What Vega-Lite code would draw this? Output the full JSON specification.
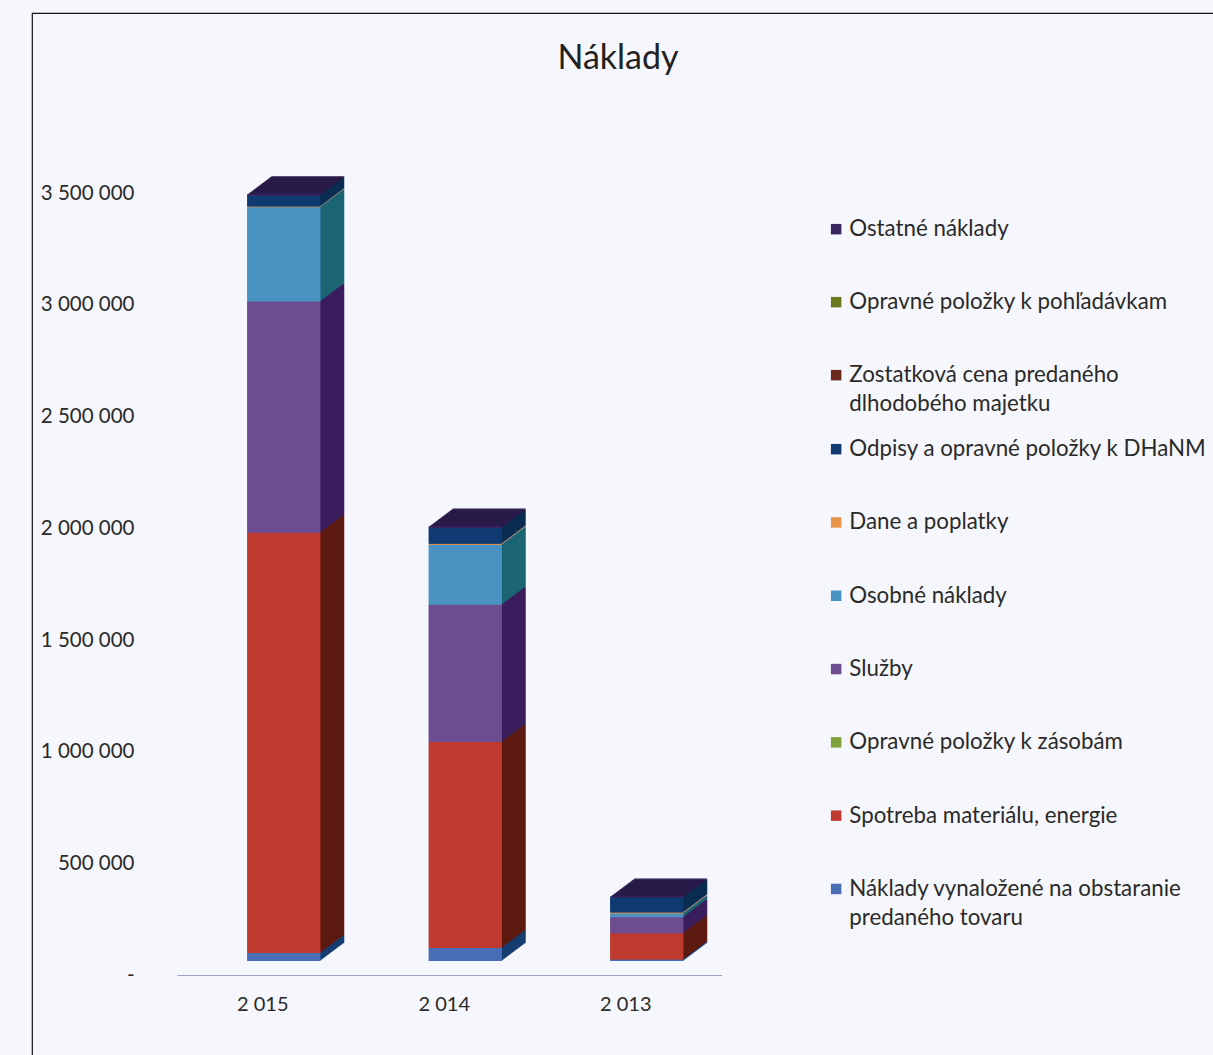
{"$schema":"https://vega.github.io/schema/vega-lite/v6.json","width":1182,"height":1043,"autosize":"none","padding":{"left":32,"top":13,"right":0,"bottom":0},"background":"#f6f7fc","config":{"font":"Lato","view":{"stroke":"#111","strokeWidth":1.2},"style":{"guide-label":{"lineHeight":29}}},"title":{"text":"Náklady","fontSize":34,"font":"Lato","fontWeight":"normal","color":"#222","anchor":"middle","frame":"group","offset":-80,"dx":-5,"baseline":"middle"},"data":{"values":[
{"rok":"2 015","polozka":"Náklady vynaložené na obstaranie predaného tovaru","poradie":1,"hodnota":36000},{"rok":"2 015","polozka":"Spotreba materiálu, energie","poradie":2,"hodnota":1880000},{"rok":"2 015","polozka":"Opravné položky k zásobám","poradie":3,"hodnota":0},{"rok":"2 015","polozka":"Služby","poradie":4,"hodnota":1034000},{"rok":"2 015","polozka":"Osobné náklady","poradie":5,"hodnota":421000},{"rok":"2 015","polozka":"Dane a poplatky","poradie":6,"hodnota":4000},{"rok":"2 015","polozka":"Odpisy a opravné položky k DHaNM","poradie":7,"hodnota":49000},{"rok":"2 015","polozka":"Zostatková cena predaného dlhodobého majetku","poradie":8,"hodnota":0},{"rok":"2 015","polozka":"Opravné položky k pohľadávkam","poradie":9,"hodnota":0},{"rok":"2 015","polozka":"Ostatné náklady","poradie":10,"hodnota":5000},
{"rok":"2 014","polozka":"Náklady vynaložené na obstaranie predaného tovaru","poradie":1,"hodnota":58000},{"rok":"2 014","polozka":"Spotreba materiálu, energie","poradie":2,"hodnota":922000},{"rok":"2 014","polozka":"Opravné položky k zásobám","poradie":3,"hodnota":0},{"rok":"2 014","polozka":"Služby","poradie":4,"hodnota":613000},{"rok":"2 014","polozka":"Osobné náklady","poradie":5,"hodnota":269000},{"rok":"2 014","polozka":"Dane a poplatky","poradie":6,"hodnota":4000},{"rok":"2 014","polozka":"Odpisy a opravné položky k DHaNM","poradie":7,"hodnota":72000},{"rok":"2 014","polozka":"Zostatková cena predaného dlhodobého majetku","poradie":8,"hodnota":0},{"rok":"2 014","polozka":"Opravné položky k pohľadávkam","poradie":9,"hodnota":0},{"rok":"2 014","polozka":"Ostatné náklady","poradie":10,"hodnota":5000},
{"rok":"2 013","polozka":"Náklady vynaložené na obstaranie predaného tovaru","poradie":1,"hodnota":7000},{"rok":"2 013","polozka":"Spotreba materiálu, energie","poradie":2,"hodnota":117000},{"rok":"2 013","polozka":"Opravné položky k zásobám","poradie":3,"hodnota":0},{"rok":"2 013","polozka":"Služby","poradie":4,"hodnota":72000},{"rok":"2 013","polozka":"Osobné náklady","poradie":5,"hodnota":17000},{"rok":"2 013","polozka":"Dane a poplatky","poradie":6,"hodnota":4000},{"rok":"2 013","polozka":"Odpisy a opravné položky k DHaNM","poradie":7,"hodnota":67000},{"rok":"2 013","polozka":"Zostatková cena predaného dlhodobého majetku","poradie":8,"hodnota":0},{"rok":"2 013","polozka":"Opravné položky k pohľadávkam","poradie":9,"hodnota":0},{"rok":"2 013","polozka":"Ostatné náklady","poradie":10,"hodnota":5000}
]},
"encoding":{
"x":{"field":"rok","type":"nominal","sort":null,"title":null,"scale":{"range":[145,689.5]},"axis":{"orient":"bottom","offset":-81,"domainColor":"#9a9fd0","domainWidth":1,"ticks":false,"labelAngle":0,"labelFont":"Lato","labelFontSize":20,"labelColor":"#2a2a2a","labelPadding":19,"labelOffset":-5,"grid":false}},
"y":{"field":"hodnota","type":"quantitative","title":null,"scale":{"domain":[0,3500000],"nice":false,"range":[962.5,180]},"axis":{"offset":-102,"domain":false,"ticks":false,"grid":false,"values":[0,500000,1000000,1500000,2000000,2500000,3000000,3500000],"labelExpr":"datum.value===0?'-\u00a0\u00a0':replace(format(datum.value,','),/,/g,' ')","labelPadding":0,"labelFont":"Lato","labelFontSize":20.5,"labelColor":"#2a2a2a"}},
"order":{"field":"poradie","type":"quantitative"}},
"layer":[
{"encoding":{"fill":{"field":"polozka","type":"nominal","legend":null,"scale":{"domain":["Ostatné náklady","Opravné položky k pohľadávkam","Zostatková cena predaného dlhodobého majetku","Odpisy a opravné položky k DHaNM","Dane a poplatky","Osobné náklady","Služby","Opravné položky k zásobám","Spotreba materiálu, energie","Náklady vynaložené na obstaranie predaného tovaru"],"range":["#2a1a48","#3f4a12","#4a1a10","#0b2c50","#d9a080","#1b6475","#3a1e5c","#4a6020","#5c1a10","#173e70"]}}},
"layer":[
{"mark":{"type":"bar","width":73,"xOffset":40,"yOffset":-32.5,"y2Offset":-32.5}},
{"mark":{"type":"bar","width":73,"xOffset":39,"yOffset":-31.75,"y2Offset":-31.75}},
{"mark":{"type":"bar","width":73,"xOffset":38,"yOffset":-31,"y2Offset":-31}},
{"mark":{"type":"bar","width":73,"xOffset":37,"yOffset":-30.25,"y2Offset":-30.25}},
{"mark":{"type":"bar","width":73,"xOffset":36,"yOffset":-29.5,"y2Offset":-29.5}},
{"mark":{"type":"bar","width":73,"xOffset":35,"yOffset":-28.75,"y2Offset":-28.75}},
{"mark":{"type":"bar","width":73,"xOffset":34,"yOffset":-28,"y2Offset":-28}},
{"mark":{"type":"bar","width":73,"xOffset":33,"yOffset":-27.25,"y2Offset":-27.25}},
{"mark":{"type":"bar","width":73,"xOffset":32,"yOffset":-26.5,"y2Offset":-26.5}},
{"mark":{"type":"bar","width":73,"xOffset":31,"yOffset":-25.75,"y2Offset":-25.75}},
{"mark":{"type":"bar","width":73,"xOffset":30,"yOffset":-25,"y2Offset":-25}},
{"mark":{"type":"bar","width":73,"xOffset":29,"yOffset":-24.25,"y2Offset":-24.25}},
{"mark":{"type":"bar","width":73,"xOffset":28,"yOffset":-23.5,"y2Offset":-23.5}},
{"mark":{"type":"bar","width":73,"xOffset":27,"yOffset":-22.75,"y2Offset":-22.75}},
{"mark":{"type":"bar","width":73,"xOffset":26,"yOffset":-22,"y2Offset":-22}},
{"mark":{"type":"bar","width":73,"xOffset":25,"yOffset":-21.25,"y2Offset":-21.25}},
{"mark":{"type":"bar","width":73,"xOffset":24,"yOffset":-20.5,"y2Offset":-20.5}},
{"mark":{"type":"bar","width":73,"xOffset":23,"yOffset":-19.75,"y2Offset":-19.75}},
{"mark":{"type":"bar","width":73,"xOffset":22,"yOffset":-19,"y2Offset":-19}},
{"mark":{"type":"bar","width":73,"xOffset":21,"yOffset":-18.25,"y2Offset":-18.25}},
{"mark":{"type":"bar","width":73,"xOffset":20,"yOffset":-17.5,"y2Offset":-17.5}},
{"mark":{"type":"bar","width":73,"xOffset":19,"yOffset":-16.75,"y2Offset":-16.75}},
{"mark":{"type":"bar","width":73,"xOffset":18,"yOffset":-16,"y2Offset":-16}},
{"mark":{"type":"bar","width":73,"xOffset":17,"yOffset":-15.25,"y2Offset":-15.25}}
]},
{"mark":{"type":"bar","width":73,"xOffset":16,"yOffset":-14.5,"y2Offset":-14.5},
"encoding":{"fill":{"field":"polozka","type":"nominal","scale":{"domain":["Ostatné náklady","Opravné položky k pohľadávkam","Zostatková cena predaného dlhodobého majetku","Odpisy a opravné položky k DHaNM","Dane a poplatky","Osobné náklady","Služby","Opravné položky k zásobám","Spotreba materiálu, energie","Náklady vynaložené na obstaranie predaného tovaru"],"range":["#3b2560","#6b7a1e","#6b2a1c","#0f3b72","#e8954a","#4a92c2","#6d4c90","#7fa03c","#bf3b30","#4a6eb5"]},
"legend":{"title":null,"orient":"none","legendX":793,"legendY":205,"values":["Ostatné náklady","Opravné položky k pohľadávkam","Zostatková cena predaného dlhodobého majetku"],"symbolType":"square","symbolSize":110,"symbolStrokeWidth":0,"labelFont":"Lato","labelFontSize":22.3,"labelColor":"#2a2a2a","labelLimit":400,"rowPadding":50,"labelOffset":2,"labelExpr":"datum.label==='Zostatková cena predaného dlhodobého majetku'?['Zostatková cena predaného','dlhodobého majetku']:datum.label"}}}},
{"mark":{"type":"bar","width":73,"xOffset":16,"yOffset":-14.5,"y2Offset":-14.5},
"encoding":{"fill":{"field":"polozka","type":"nominal","scale":{"domain":["Ostatné náklady","Opravné položky k pohľadávkam","Zostatková cena predaného dlhodobého majetku","Odpisy a opravné položky k DHaNM","Dane a poplatky","Osobné náklady","Služby","Opravné položky k zásobám","Spotreba materiálu, energie","Náklady vynaložené na obstaranie predaného tovaru"],"range":["#3b2560","#6b7a1e","#6b2a1c","#0f3b72","#e8954a","#4a92c2","#6d4c90","#7fa03c","#bf3b30","#4a6eb5"]},
"legend":{"title":null,"orient":"none","legendX":793,"legendY":425,"values":["Odpisy a opravné položky k DHaNM","Dane a poplatky","Osobné náklady","Služby","Opravné položky k zásobám","Spotreba materiálu, energie","Náklady vynaložené na obstaranie predaného tovaru"],"symbolType":"square","symbolSize":110,"symbolStrokeWidth":0,"labelFont":"Lato","labelFontSize":22.3,"labelColor":"#2a2a2a","labelLimit":400,"rowPadding":50.3,"labelOffset":2,"labelExpr":"datum.label==='Náklady vynaložené na obstaranie predaného tovaru'?['Náklady vynaložené na obstaranie','predaného tovaru']:datum.label"}}}}
],
"resolve":{"scale":{"fill":"independent"}}}
